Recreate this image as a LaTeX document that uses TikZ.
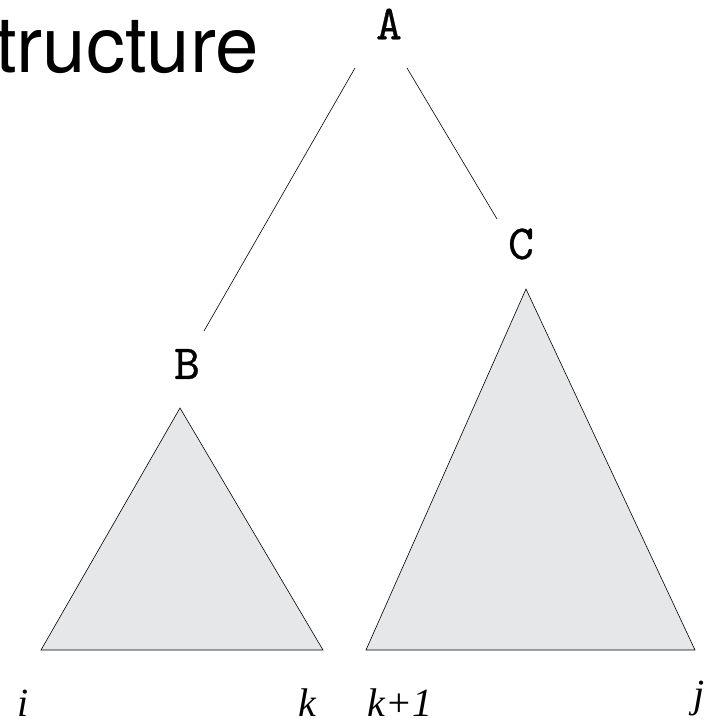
\documentclass[tikz,border=0pt]{standalone}
\usepackage{fontspec}
\setsansfont{TeX Gyre Heros}
\setmainfont{Liberation Serif}
\newfontfamily\labfont{lmmono10-regular}[Extension=.otf, FakeBold=0.6]
\definecolor{triGray}{HTML}{E6E7E8}
\begin{document}
\begin{tikzpicture}[x=1pt,y=-1pt,
  tri/.style={draw=black, line width=0.6pt, fill=triGray, line join=miter},
  edge/.style={draw=black, line width=0.6pt},
  lab/.style={font=\fontsize{49}{49}\selectfont\labfont, inner sep=0},
  idx/.style={font=\fontsize{40}{40}\selectfont\itshape, inner sep=0, anchor=base}]
\useasboundingbox (0,0) rectangle (708,720);
\node[anchor=base west, inner sep=0, font=\fontsize{78}{78}\selectfont\sffamily] (title) at (-5,72) {tructure};
\node[lab] (A) at (389,24) {A};
\node[lab] (B) at (187,364) {B};
\node[lab] (C) at (521,244) {C};
\coordinate (ab1) at (355,68);
\coordinate (ab2) at (204,331);
\coordinate (ac1) at (407,68);
\coordinate (ac2) at (497,219);
\draw[edge] (ab1) -- (ab2);
\draw[edge] (ac1) -- (ac2);
\coordinate (bt) at (180,408);
\coordinate (bl) at (41,650);
\coordinate (br) at (323,650);
\coordinate (ct) at (526,289);
\coordinate (cl) at (366,650);
\coordinate (cr) at (695,650);
\draw[tri] (bt) -- (bl) -- (br) -- cycle;
\draw[tri] (ct) -- (cl) -- (cr) -- cycle;
\node[idx] (li) at (23,716) {i};
\node[idx] (lk) at (307,716) {k};
\node[idx] (lk1) at (400,716) {k+1};
\node[idx, anchor=south] (lj) at (699,716) {j};
\end{tikzpicture}
\end{document}
